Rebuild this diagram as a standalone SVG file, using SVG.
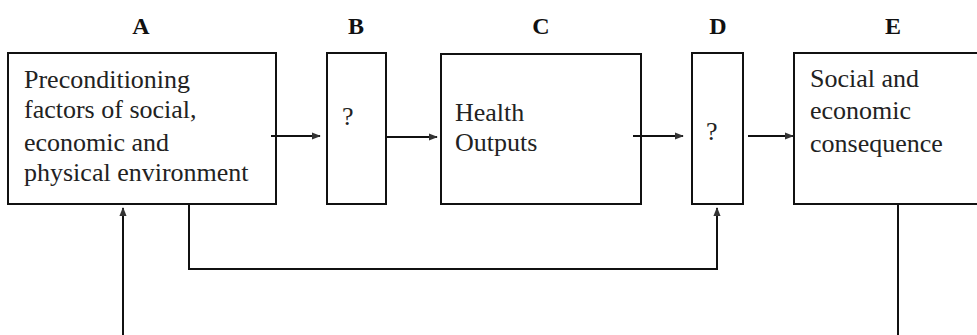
<svg xmlns="http://www.w3.org/2000/svg" width="977" height="335" viewBox="0 0 977 335">
<defs>
<style>
.box{fill:none;stroke:#111;stroke-width:2}
.lbl{font-family:"Liberation Serif","Times New Roman",serif;font-weight:bold;font-size:24px;fill:#111;text-anchor:middle}
.txt{font-family:"Liberation Serif","Times New Roman",serif;font-size:26px;fill:#222}
.con{fill:none;stroke:#111;stroke-width:2}
</style>
<marker id="ah" viewBox="0 0 10 10" refX="9" refY="5" markerWidth="4.5" markerHeight="4.5" orient="auto" markerUnits="strokeWidth">
<path d="M0,1 L10,5 L0,9 z" fill="#333"/>
</marker>
</defs>
<rect width="977" height="335" fill="#fff"/>
<g id="nodeA">
<text class="lbl" x="141" y="34">A</text>
<rect class="box" x="8" y="53" width="268" height="151"/>
<text class="txt" x="24" y="88">Preconditioning</text>
<text class="txt" x="24" y="118">factors of social,</text>
<text class="txt" x="24" y="151">economic and</text>
<text class="txt" x="24" y="181">physical environment</text>
</g>
<g id="nodeB">
<text class="lbl" x="356" y="34">B</text>
<rect class="box" x="327" y="53" width="59" height="151"/>
<text class="txt" x="342" y="125">?</text>
</g>
<g id="nodeC">
<text class="lbl" x="541" y="34">C</text>
<rect class="box" x="441" y="54" width="200" height="150"/>
<text class="txt" x="455" y="121">Health</text>
<text class="txt" x="455" y="151">Outputs</text>
</g>
<g id="nodeD">
<text class="lbl" x="718" y="34">D</text>
<rect class="box" x="692" y="53" width="51" height="151"/>
<text class="txt" x="706" y="140">?</text>
</g>
<g id="nodeE">
<text class="lbl" x="893" y="34">E</text>
<rect class="box" x="794" y="53" width="190" height="151"/>
<text class="txt" x="810" y="87">Social and</text>
<text class="txt" x="810" y="119">economic</text>
<text class="txt" x="810" y="152">consequence</text>
</g>
<g id="connectors">
<path class="con" d="M271,136 H320" marker-end="url(#ah)"/>
<path class="con" d="M387,137 H437" marker-end="url(#ah)"/>
<path class="con" d="M633,136 H683" marker-end="url(#ah)"/>
<path class="con" d="M748,136 H793" marker-end="url(#ah)"/>
<path class="con" d="M123,335 V208" marker-end="url(#ah)"/>
<path class="con" d="M189,204 V269 H717 V208" marker-end="url(#ah)"/>
<path class="con" d="M898,204 V335"/>
</g>
</svg>
